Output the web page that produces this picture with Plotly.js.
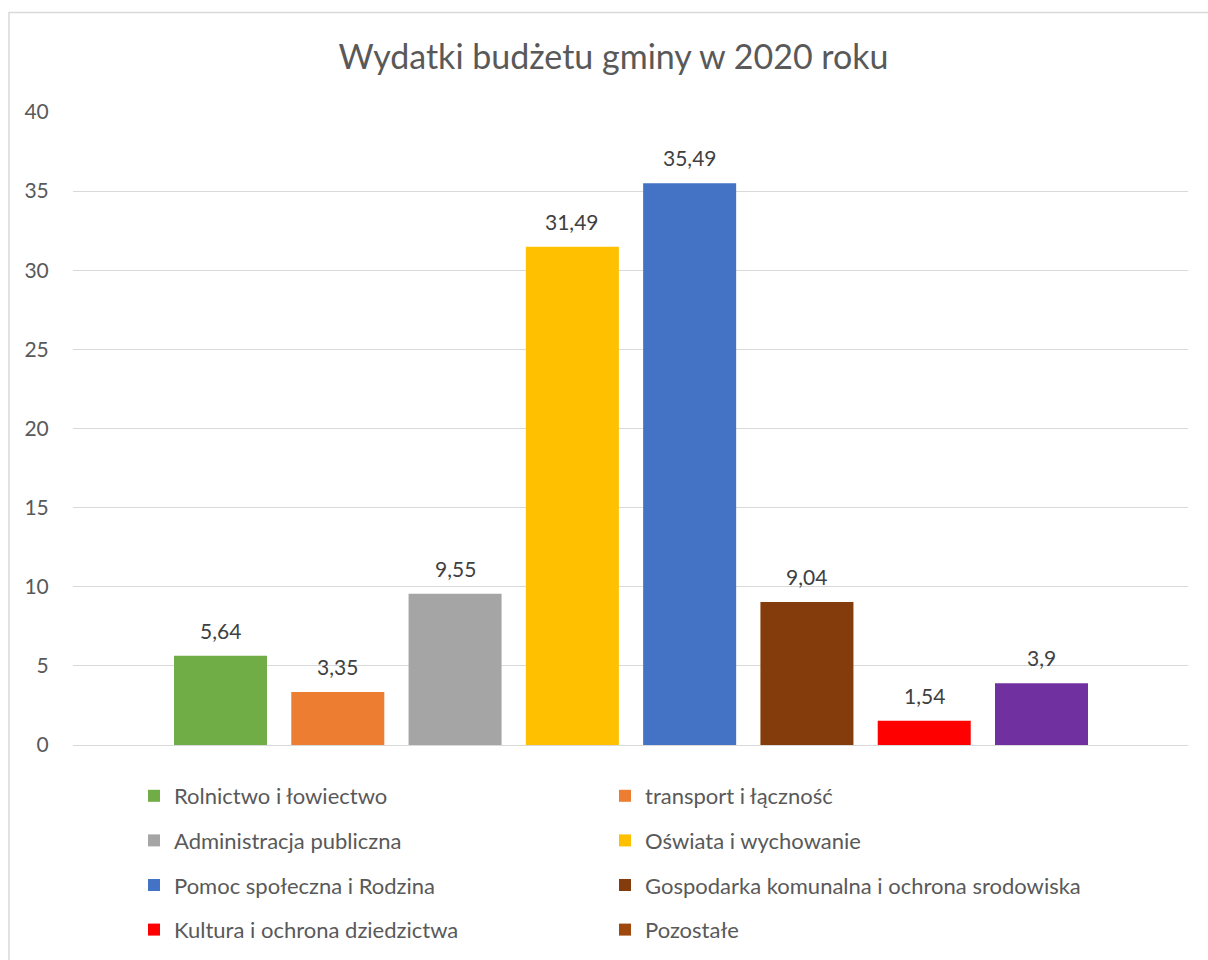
<!DOCTYPE html>
<html>
<head>
<meta charset="utf-8">
<script src="https://cdn.plot.ly/plotly-3.0.1.min.js"></script>
<style>
  html, body { margin: 0; padding: 0; background: #ffffff; }
  #chart { width: 1208px; height: 960px; }
</style>
</head>
<body>
<div id="chart"></div>
<script>
// ---- data ----
const categories = [
  "Rolnictwo i łowiectwo",
  "transport i łączność",
  "Administracja publiczna",
  "Oświata i wychowanie",
  "Pomoc społeczna i Rodzina",
  "Gospodarka komunalna i ochrona srodowiska",
  "Kultura i ochrona dziedzictwa",
  "Pozostałe"
];
const values = [5.64, 3.35, 9.55, 31.49, 35.49, 9.04, 1.54, 3.9];
const barColors = ["#70AD47", "#ED7D31", "#A5A5A5", "#FFC000", "#4472C4", "#843C0C", "#FF0000", "#7030A0"];
const legendColors = ["#70AD47", "#ED7D31", "#A5A5A5", "#FFC000", "#4472C4", "#843C0C", "#FF0000", "#9E480E"];
const yTicks = [0, 5, 10, 15, 20, 25, 30, 35, 40];
const titleText = "Wydatki budżetu gminy w 2020 roku";

const FONT = "Lato, 'Open Sans', sans-serif";
const TXT = "#595959";
const GRID = "#D9D9D9";

const traces = [];
traces.push({
  type: "bar",
  x: categories,
  y: values,
  marker: { color: barColors },
  showlegend: false,
  hoverinfo: "x+y"
});
categories.forEach((c, i) => {
  traces.push({
    type: "bar",
    x: [c],
    y: [null],
    name: c,
    marker: { color: legendColors[i] },
    showlegend: true,
    legend: (i % 2 === 0) ? "legend" : "legend2",
    legendgroup: "g" + i,
    hoverinfo: "skip"
  });
});

const annotations = categories.map((c, i) => ({
  x: c, y: values[i], xref: "x", yref: "y",
  text: String(values[i]).replace(".", ","),
  showarrow: false, yanchor: "bottom", yshift: 11,
  font: { family: FONT, size: 21, color: "#404040" }
}));

const legendCommon = {
  orientation: "v",
  font: { family: FONT, size: 22, color: TXT },
  bgcolor: "rgba(0,0,0,0)",
  tracegroupgap: 13,
  itemclick: false,
  itemdoubleclick: false,
  xref: "container", yref: "container",
  xanchor: "left", yanchor: "top",
  y: 1 - 775 / 960
};

const layout = {
  width: 1208, height: 960,
  paper_bgcolor: "#ffffff", plot_bgcolor: "#ffffff",
  margin: { l: 73, r: 20, t: 112, b: 215, pad: 0, autoexpand: false },
  title: {
    text: titleText,
    font: { family: FONT, size: 34, color: TXT },
    xref: "container", yref: "container",
    x: 613.5 / 1208, xanchor: "center",
    y: 1 - 57 / 960, yanchor: "middle"
  },
  barmode: "overlay",
  bargap: 0.207,
  xaxis: {
    type: "category",
    range: [-1.2576, 8.249],
    showticklabels: false,
    showgrid: false, zeroline: false, showline: false, ticks: ""
  },
  yaxis: {
    range: [0, 40],
    tickvals: yTicks,
    ticktext: yTicks.map(String),
    showgrid: true, gridcolor: GRID, gridwidth: 1.3,
    zeroline: true, zerolinecolor: GRID, zerolinewidth: 1.3,
    showline: false,
    ticks: "outside", ticklen: 19, tickcolor: "rgba(0,0,0,0)",
    tickfont: { family: FONT, size: 21, color: TXT }
  },
  legend: Object.assign({}, legendCommon, { x: 134 / 1208 }),
  legend2: Object.assign({}, legendCommon, { x: 605 / 1208 }),
  annotations: annotations,
  shapes: [{
    type: "rect", xref: "paper", yref: "paper",
    x0: (9 - 73) / 1115, x1: (1230 - 73) / 1115,
    y0: (745 - 980) / 633, y1: (745 - 12.5) / 633,
    line: { color: GRID, width: 1.5 }, fillcolor: "rgba(0,0,0,0)",
    layer: "below"
  }],
  showlegend: true
};

Plotly.newPlot("chart", traces, layout, { displayModeBar: false, staticPlot: false });
</script>
</body>
</html>
